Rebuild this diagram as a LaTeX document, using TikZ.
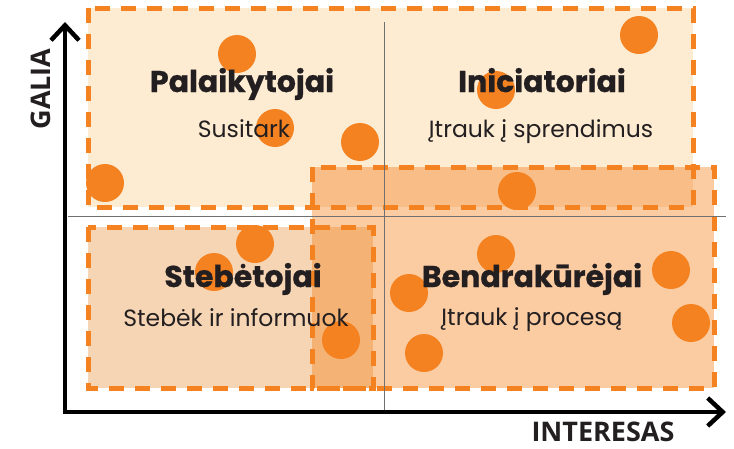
\documentclass[tikz,border=0pt]{standalone}
\usepackage{fontspec}
\setmainfont{Poppins}[BoldFeatures={FakeBold=0.8}]
\newfontfamily\axisfont{Open Sans}
\usetikzlibrary{arrows.meta}
\definecolor{dotorange}{HTML}{F58220}
\definecolor{topfill}{HTML}{FDEBD2}
\definecolor{lowfill}{HTML}{F6D5B4}
\definecolor{gridgrey}{HTML}{707070}
\definecolor{inkblack}{HTML}{231F20}
\newcommand{\barb}{Straight Barb[length=15pt,width=28pt]}
\tikzset{
  groupbox/.style={draw=dotorange, line width=5pt, dash pattern=on 15pt off 11pt},
  dot/.style={circle, fill=dotorange, minimum size=38pt, inner sep=0pt},
  title/.style={font=\bfseries\fontsize{30}{33}\selectfont, text=inkblack, anchor=base},
  hint/.style={font=\fontsize{23.5}{27}\selectfont, text=inkblack, anchor=base},
  axislabel/.style={font=\axisfont\bfseries\fontsize{27}{30}\selectfont, text=inkblack, anchor=base},
}

\begin{document}
\begin{tikzpicture}[x=1pt,y=-1pt]
\useasboundingbox (0,0) rectangle (734,448);
%groups
\draw[groupbox,fill=topfill] (88,8) rectangle (693,207);
\draw[groupbox,fill=lowfill] (88,227) rectangle (373,388);
\draw[groupbox,fill=dotorange,fill opacity=0.42] (312,167) rectangle (714,388);
%quadrant lines
\draw[gridgrey,line width=1pt] (68,216) -- (726,216);
\draw[gridgrey,line width=1pt] (384,22) -- (384,412);
%axes
\coordinate (origin) at (65,412);
\coordinate (ytip) at (65,22);
\coordinate (xtip) at (726,412);
\draw[line width=4.5pt,{\barb}-{\barb}] (ytip) -- (origin) -- (xtip);
\node[axislabel] (interesas) at (603,441) {INTERESAS};
\node[axislabel,rotate=90] (galia) at (50,89) {GALIA};
%stakeholders
\node[dot] (dot1) at (237,54) {};
\node[dot] (dot2) at (275,128) {};
\node[dot] (dot3) at (360,142) {};
\node[dot] (dot4) at (105,183) {};
\node[dot] (dot5) at (639,35) {};
\node[dot] (dot6) at (496,90) {};
\node[dot] (dot7) at (517,191) {};
\node[dot] (dot8) at (214,272) {};
\node[dot] (dot9) at (255,244) {};
\node[dot] (dot10) at (341,340) {};
\node[dot] (dot11) at (496,254) {};
\node[dot] (dot12) at (409,293) {};
\node[dot] (dot13) at (424,353) {};
\node[dot] (dot14) at (671,270) {};
\node[dot] (dot15) at (691,323) {};
%quadrant texts
\node[title] (palaik) at (242,92) {Palaikytojai};
\node[hint] (susitark) at (244,137) {Susitark};
\node[title] (inic) at (542,92) {Iniciatoriai};
\node[hint] (sprend) at (541,137) {Įtrauk į sprendimus};
\node[title] (steb) at (243,287) {Stebėtojai};
\node[hint] (inform) at (236,326) {Stebėk ir informuok};
\node[title] (bendr) at (532,287) {Bendrakūrėjai};
\node[hint] (proc) at (532,325) {Įtrauk į procesą};
\end{tikzpicture}
\end{document}
